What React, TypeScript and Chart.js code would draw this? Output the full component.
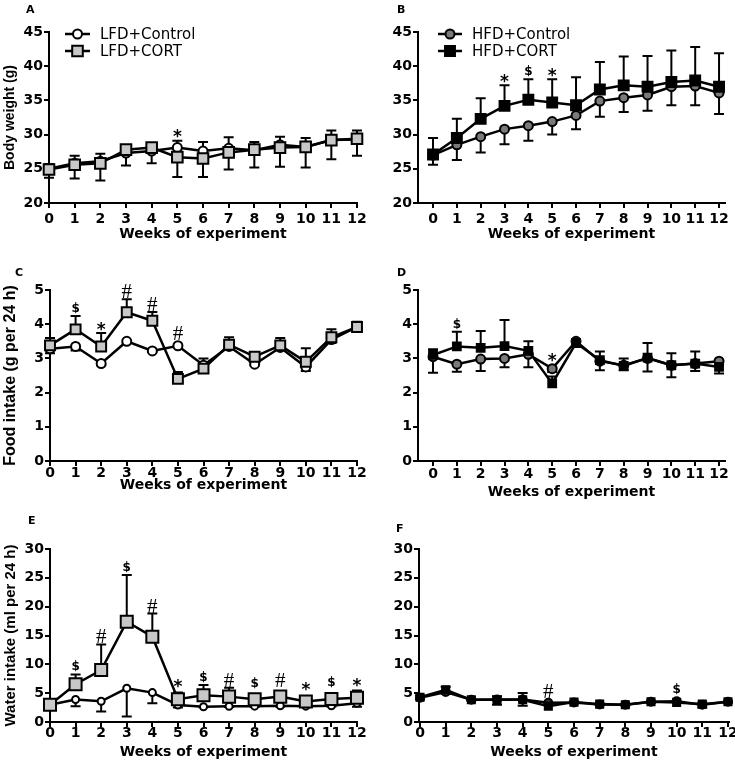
import React, { useEffect, useRef } from "react";
import { Chart, registerables } from "chart.js";

Chart.register(...registerables);

// ---------------- data ----------------
const weeks = [0, 1, 2, 3, 4, 5, 6, 7, 8, 9, 10, 11, 12];

const weightTicks = [20, 25, 30, 35, 40, 45];
const foodTicks = [0, 1, 2, 3, 4, 5];
const waterTicks = [0, 5, 10, 15, 20, 25, 30];

// A: body weight, LFD
const lfdControlWeight = [25.0, 25.8, 26.1, 27.3, 27.6, 28.1, 27.6, 28.0, 27.7, 28.5, 28.2, 29.2, 29.3];
const lfdControlWeightSem = [0.7, 1.1, 1.1, 0.5, 0.4, 1.0, 1.3, 1.6, 1.2, 1.2, 1.3, 1.4, 1.3];
const lfdCortWeight = [24.9, 25.6, 25.8, 27.8, 28.1, 26.7, 26.5, 27.4, 27.8, 28.1, 28.2, 29.2, 29.4];
const lfdCortWeightSem = [1.2, 2.0, 2.5, 2.3, 2.3, 2.9, 2.7, 2.5, 2.6, 2.8, 3.0, 2.8, 2.5];

// B: body weight, HFD
const hfdControlWeight = [27.0, 28.5, 29.7, 30.8, 31.3, 31.9, 32.8, 34.9, 35.4, 35.8, 37.0, 37.1, 36.1];
const hfdControlWeightSem = [1.4, 2.2, 2.3, 2.2, 2.2, 1.9, 2.0, 2.3, 2.1, 2.3, 2.7, 2.8, 3.1];
const hfdCortWeight = [27.1, 29.5, 32.3, 34.2, 35.1, 34.7, 34.3, 36.6, 37.2, 37.0, 37.7, 37.9, 37.0];
const hfdCortWeightSem = [2.4, 2.8, 3.0, 3.0, 3.0, 3.4, 4.1, 4.0, 4.2, 4.5, 4.6, 4.9, 4.9];

// C: food intake, LFD
const lfdControlFood = [3.28, 3.35, 2.85, 3.5, 3.22, 3.37, 2.8, 3.35, 2.83, 3.32, 2.75, 3.55, 3.92];
const lfdControlFoodSem = [0.13, 0.12, 0.05, 0.05, 0.03, 0.04, 0.1, 0.05, 0.04, 0.07, 0.12, 0.1, 0.07];
const lfdCortFood = [3.38, 3.85, 3.35, 4.35, 4.1, 2.4, 2.7, 3.4, 3.05, 3.38, 2.9, 3.62, 3.92];
const lfdCortFoodSem = [0.22, 0.39, 0.39, 0.38, 0.26, 0.2, 0.3, 0.22, 0.1, 0.22, 0.4, 0.23, 0.15];

// D: food intake, HFD
const hfdControlFood = [3.05, 2.83, 2.98, 3.0, 3.12, 2.7, 3.5, 2.92, 2.8, 3.0, 2.8, 2.85, 2.92];
const hfdControlFoodSem = [0.47, 0.22, 0.35, 0.26, 0.38, 0.1, 0.05, 0.27, 0.15, 0.38, 0.35, 0.22, 0.36];
const hfdCortFood = [3.1, 3.35, 3.31, 3.36, 3.22, 2.27, 3.45, 2.95, 2.78, 3.02, 2.8, 2.85, 2.75];
const hfdCortFoodSem = [0.17, 0.43, 0.49, 0.76, 0.28, 0.2, 0.08, 0.25, 0.22, 0.43, 0.35, 0.35, 0.05];

// E: water intake, LFD
const lfdControlWater = [3.0, 3.9, 3.6, 5.85, 5.1, 2.95, 2.65, 2.72, 2.75, 2.8, 2.75, 2.8, 3.25];
const lfdControlWaterSem = [0.2, 1.15, 1.8, 4.9, 1.85, 0.45, 0.1, 0.1, 0.1, 0.1, 0.1, 0.1, 0.6];
const lfdCortWater = [3.0, 6.55, 9.0, 17.4, 14.8, 3.95, 4.65, 4.4, 3.95, 4.4, 3.55, 4.0, 4.2];
const lfdCortWaterSem = [0.2, 1.7, 4.45, 8.1, 4.0, 1.15, 1.75, 1.55, 0.75, 0.7, 0.85, 0.9, 1.25];

// F: water intake, HFD
const hfdControlWater = [4.2, 5.2, 3.85, 3.9, 3.9, 3.35, 3.4, 3.05, 3.0, 3.5, 3.6, 3.0, 3.5];
const hfdControlWaterSem = [0.3, 0.3, 0.1, 0.9, 1.1, 0.2, 0.1, 0.1, 0.1, 0.1, 0.1, 0.5, 0.1];
const hfdCortWater = [4.3, 5.6, 3.85, 3.85, 3.85, 2.75, 3.45, 3.1, 3.0, 3.5, 3.4, 3.1, 3.5];
const hfdCortWaterSem = [0.3, 0.5, 0.1, 0.6, 1.2, 0.2, 0.1, 0.1, 0.1, 0.1, 0.1, 0.3, 0.1];

// significance marks per week
const marksA = ["", "", "", "", "", "*", "", "", "", "", "", "", ""];
const marksB = ["", "", "", "*", "$", "*", "", "", "", "", "", "", ""];
const marksC = ["", "$", "*", "#", "#", "#", "", "", "", "", "", "", ""];
const marksD = ["", "$", "", "", "", "*", "", "", "", "", "", "", ""];
const marksE = ["", "$", "#", "$", "#", "*", "$", "#", "$", "#", "*", "$", "*"];
const marksF = ["", "", "", "", "", "#", "", "", "", "", "$", "", ""];

// ---------------- styles / layout ----------------
type Series = {
  label: string;
  values: number[];
  sem: number[];
  dir: number;
  shape: "circle" | "rect";
  fill: string;
  radius: number;
  order: number;
};

type PanelDef = {
  letter: string;
  letterPos: { x: number; y: number };
  box: { left: number; top: number; width: number; height: number };
  plot: { left: number; top: number; right: number; bottom: number };
  xMin: number;
  xMax: number;
  yTicks: number[];
  yTitle: string;
  yTitleSize: number;
  yTitleCenter: number;
  xTickPad: number;
  xTitleCenter: number;
  lineWidth: number;
  series: Series[];
  marks: string[];
  legend?: { x1: number; x2: number; textX: number; rows: number[] };
};

const LFD_CTRL_FILL = "#ffffff";
const LFD_CORT_FILL = "#c8c8c8";
const HFD_CTRL_FILL = "#7a7a7a";
const HFD_CORT_FILL = "#000000";

const panels: PanelDef[] = [
  {
    letter: "A",
    letterPos: { x: 26, y: 10 },
    box: { left: 0, top: 0, width: 370, height: 250 },
    plot: { left: 49, top: 32, right: 357, bottom: 203 },
    xMin: 0,
    xMax: 12,
    yTicks: weightTicks,
    yTitle: "Body weight (g)",
    yTitleSize: 14,
    yTitleCenter: 10,
    xTickPad: 3,
    xTitleCenter: 234,
    lineWidth: 2.5,
    series: [
      { label: "LFD+Control", values: lfdControlWeight, sem: lfdControlWeightSem, dir: 1, shape: "circle", fill: LFD_CTRL_FILL, radius: 4.5, order: 1 },
      { label: "LFD+CORT", values: lfdCortWeight, sem: lfdCortWeightSem, dir: -1, shape: "rect", fill: LFD_CORT_FILL, radius: 7.5, order: 0 },
    ],
    marks: marksA,
    legend: { x1: 65, x2: 90, textX: 100, rows: [34, 51] },
  },
  {
    letter: "B",
    letterPos: { x: 397, y: 10 },
    box: { left: 365, top: 0, width: 370, height: 250 },
    plot: { left: 418, top: 32, right: 725, bottom: 203 },
    xMin: -0.63,
    xMax: 12.25,
    yTicks: weightTicks,
    yTitle: "",
    yTitleSize: 14,
    yTitleCenter: 10,
    xTickPad: 3,
    xTitleCenter: 234,
    lineWidth: 2.5,
    series: [
      { label: "HFD+Control", values: hfdControlWeight, sem: hfdControlWeightSem, dir: -1, shape: "circle", fill: HFD_CTRL_FILL, radius: 4.5, order: 1 },
      { label: "HFD+CORT", values: hfdCortWeight, sem: hfdCortWeightSem, dir: 1, shape: "rect", fill: HFD_CORT_FILL, radius: 7, order: 0 },
    ],
    marks: marksB,
    legend: { x1: 438, x2: 462, textX: 472, rows: [34, 51] },
  },
  {
    letter: "C",
    letterPos: { x: 15, y: 273 },
    box: { left: 0, top: 250, width: 370, height: 255 },
    plot: { left: 50, top: 290, right: 357, bottom: 461 },
    xMin: 0,
    xMax: 12,
    yTicks: foodTicks,
    yTitle: "Food intake (g per 24 h)",
    yTitleSize: 16,
    yTitleCenter: 11,
    xTickPad: -1,
    xTitleCenter: 485,
    lineWidth: 2.5,
    series: [
      { label: "LFD+Control", values: lfdControlFood, sem: lfdControlFoodSem, dir: -1, shape: "circle", fill: LFD_CTRL_FILL, radius: 4.5, order: 1 },
      { label: "LFD+CORT", values: lfdCortFood, sem: lfdCortFoodSem, dir: 1, shape: "rect", fill: LFD_CORT_FILL, radius: 7, order: 0 },
    ],
    marks: marksC,
  },
  {
    letter: "D",
    letterPos: { x: 397, y: 273 },
    box: { left: 365, top: 250, width: 370, height: 255 },
    plot: { left: 418, top: 290, right: 725, bottom: 461 },
    xMin: -0.63,
    xMax: 12.25,
    yTicks: foodTicks,
    yTitle: "",
    yTitleSize: 16,
    yTitleCenter: 11,
    xTickPad: 0,
    xTitleCenter: 492,
    lineWidth: 2.5,
    series: [
      { label: "HFD+Control", values: hfdControlFood, sem: hfdControlFoodSem, dir: -1, shape: "circle", fill: HFD_CTRL_FILL, radius: 4.5, order: 1 },
      { label: "HFD+CORT", values: hfdCortFood, sem: hfdCortFoodSem, dir: 1, shape: "rect", fill: HFD_CORT_FILL, radius: 5.5, order: 0 },
    ],
    marks: marksD,
  },
  {
    letter: "E",
    letterPos: { x: 28, y: 521 },
    box: { left: 0, top: 505, width: 370, height: 261 },
    plot: { left: 50, top: 549, right: 357, bottom: 722 },
    xMin: 0,
    xMax: 12,
    yTicks: waterTicks,
    yTitle: "Water intake (ml per 24 h)",
    yTitleSize: 15,
    yTitleCenter: 11,
    xTickPad: -2,
    xTitleCenter: 752,
    lineWidth: 2.5,
    series: [
      { label: "LFD+Control", values: lfdControlWater, sem: lfdControlWaterSem, dir: -1, shape: "circle", fill: LFD_CTRL_FILL, radius: 3.5, order: 1 },
      { label: "LFD+CORT", values: lfdCortWater, sem: lfdCortWaterSem, dir: 1, shape: "rect", fill: LFD_CORT_FILL, radius: 8.5, order: 0 },
    ],
    marks: marksE,
  },
  {
    letter: "F",
    letterPos: { x: 396, y: 529 },
    box: { left: 365, top: 505, width: 385, height: 261 },
    plot: { left: 419, top: 549, right: 729, bottom: 722 },
    xMin: -0.04,
    xMax: 12.04,
    yTicks: waterTicks,
    yTitle: "",
    yTitleSize: 15,
    yTitleCenter: 11,
    xTickPad: -2,
    xTitleCenter: 752,
    lineWidth: 2.5,
    series: [
      { label: "HFD+Control", values: hfdControlWater, sem: hfdControlWaterSem, dir: -1, shape: "circle", fill: "#333333", radius: 4, order: 1 },
      { label: "HFD+CORT", values: hfdCortWater, sem: hfdCortWaterSem, dir: 1, shape: "rect", fill: HFD_CORT_FILL, radius: 5, order: 0 },
    ],
    marks: marksF,
  },
];

// ---------------- drawing helpers ----------------
function drawMarker(ctx: CanvasRenderingContext2D, shape: string, x: number, y: number, r: number, fill: string) {
  ctx.beginPath();
  if (shape === "circle") {
    ctx.arc(x, y, r, 0, Math.PI * 2);
  } else {
    const h = r * Math.SQRT1_2;
    ctx.rect(x - h, y - h, 2 * h, 2 * h);
  }
  ctx.fillStyle = fill;
  ctx.fill();
  ctx.lineWidth = 2;
  ctx.strokeStyle = "#000";
  ctx.stroke();
}

function drawSymbol(ctx: CanvasRenderingContext2D, sym: string, x: number, cy: number) {
  let size = 17;
  let k = 0.57;
  if (sym === "*") {
    size = 17;
    ctx.font = `bold ${size}px "DejaVu Sans"`;
    k = 0.57;
  } else if (sym === "$") {
    size = 12;
    ctx.font = `bold ${size}px "DejaVu Sans"`;
    k = 0.32;
  } else {
    size = 21;
    ctx.font = `${size}px "Liberation Serif"`;
    k = 0.33;
  }
  ctx.fillStyle = "#000";
  ctx.textAlign = "center";
  ctx.textBaseline = "alphabetic";
  ctx.fillText(sym, x, cy + k * size);
}

function buildConfig(p: PanelDef): any {
  const boxBottom = p.box.top + p.box.height;
  const boxRight = p.box.left + p.box.width;
  const yMin = p.yTicks[0];
  const yMax = p.yTicks[p.yTicks.length - 1];
  const tickFont = { family: "DejaVu Sans", weight: "bold" as const, size: 14 };

  const datasets = p.series.map((s) => ({
    label: s.label,
    data: weeks.map((w, i) => ({ x: w, y: s.values[i] })),
    borderColor: "#000",
    borderWidth: p.lineWidth,
    backgroundColor: s.fill,
    pointStyle: s.shape,
    pointRadius: s.radius,
    pointHoverRadius: s.radius,
    pointBackgroundColor: s.fill,
    pointBorderColor: "#000",
    pointBorderWidth: 2,
    tension: 0,
    fill: false,
    clip: false,
    order: s.order,
  }));

  const errorBars = {
    id: "errorBars",
    beforeDatasetsDraw(chart: any) {
      const ctx = chart.ctx;
      const xs = chart.scales.x;
      const ys = chart.scales.y;
      ctx.save();
      ctx.strokeStyle = "#000";
      ctx.lineWidth = 2;
      ctx.lineCap = "butt";
      p.series.forEach((s) => {
        weeks.forEach((w, i) => {
          const x = xs.getPixelForValue(w);
          const y0 = ys.getPixelForValue(s.values[i]);
          const y1 = ys.getPixelForValue(s.values[i] + s.dir * s.sem[i]);
          ctx.beginPath();
          ctx.moveTo(x, y0);
          ctx.lineTo(x, y1);
          ctx.moveTo(x - 5, y1);
          ctx.lineTo(x + 5, y1);
          ctx.stroke();
        });
      });
      ctx.restore();
    },
  };

  const overlay = {
    id: "overlay",
    afterDraw(chart: any) {
      const ctx = chart.ctx;
      const xs = chart.scales.x;
      const ys = chart.scales.y;
      ctx.save();
      // significance marks
      p.marks.forEach((m, i) => {
        if (!m) return;
        let top = Infinity;
        p.series.forEach((s) => {
          const yv = ys.getPixelForValue(s.values[i]);
          top = Math.min(top, yv - s.radius);
          if (s.dir > 0) top = Math.min(top, ys.getPixelForValue(s.values[i] + s.sem[i]));
        });
        drawSymbol(ctx, m, xs.getPixelForValue(weeks[i]), top - 8);
      });
      // panel letter
      ctx.fillStyle = "#000";
      ctx.font = 'bold 11px "DejaVu Sans"';
      ctx.textAlign = "left";
      ctx.textBaseline = "middle";
      ctx.fillText(p.letter, p.letterPos.x - p.box.left, p.letterPos.y - p.box.top);
      // legend
      if (p.legend) {
        const lg = p.legend;
        p.series.forEach((s, k) => {
          const y = lg.rows[k] - p.box.top;
          ctx.beginPath();
          ctx.moveTo(lg.x1 - p.box.left, y);
          ctx.lineTo(lg.x2 - p.box.left, y);
          ctx.strokeStyle = "#000";
          ctx.lineWidth = p.lineWidth;
          ctx.stroke();
          drawMarker(ctx, s.shape, (lg.x1 + lg.x2) / 2 - p.box.left, y, s.radius, s.fill);
          ctx.fillStyle = "#000";
          ctx.font = '15px "DejaVu Sans"';
          ctx.textAlign = "left";
          ctx.textBaseline = "middle";
          ctx.fillText(s.label, lg.textX - p.box.left, y + 1);
        });
      }
      ctx.restore();
    },
  };

  return {
    type: "line",
    data: { datasets },
    options: {
      animation: false,
      responsive: false,
      maintainAspectRatio: false,
      devicePixelRatio: 1,
      events: [],
      layout: {
        padding: {
          left: 0,
          top: p.plot.top - p.box.top,
          right: boxRight - p.plot.right,
          bottom: 0,
        },
      },
      plugins: {
        legend: { display: false },
        tooltip: { enabled: false },
        title: { display: false },
      },
      scales: {
        x: {
          type: "linear",
          min: p.xMin,
          max: p.xMax,
          afterBuildTicks: (scale: any) => {
            scale.ticks = weeks.map((v) => ({ value: v }));
          },
          afterFit: (scale: any) => {
            scale.height = boxBottom - p.plot.bottom;
          },
          ticks: {
            font: tickFont,
            color: "#000",
            padding: p.xTickPad,
            maxRotation: 0,
            minRotation: 0,
            autoSkip: false,
            callback: (v: any) => String(v),
          },
          grid: {
            display: true,
            drawOnChartArea: false,
            drawTicks: true,
            tickLength: 5,
            color: "#000",
            lineWidth: 2,
          },
          border: { display: true, color: "#000", width: 2 },
          title: {
            display: true,
            text: "Weeks of experiment",
            color: "#000",
            font: { family: "DejaVu Sans", weight: "bold", size: 14 },
            padding: { top: 0, bottom: boxBottom - p.xTitleCenter - 8.4 },
          },
        },
        y: {
          type: "linear",
          min: yMin,
          max: yMax,
          afterBuildTicks: (scale: any) => {
            scale.ticks = p.yTicks.map((v) => ({ value: v }));
          },
          afterFit: (scale: any) => {
            scale.width = p.plot.left - p.box.left;
          },
          ticks: {
            font: tickFont,
            color: "#000",
            padding: 1,
            callback: (v: any) => String(v),
          },
          grid: {
            display: true,
            drawOnChartArea: false,
            drawTicks: true,
            tickLength: 5,
            color: "#000",
            lineWidth: 2,
          },
          border: { display: true, color: "#000", width: 2 },
          title: {
            display: p.yTitle !== "",
            text: p.yTitle,
            color: "#000",
            font: { family: "Liberation Sans", weight: "bold", size: p.yTitleSize },
            padding: { top: Math.max(0, p.yTitleCenter - (p.yTitleSize * 1.2) / 2), bottom: 0 },
          },
        },
      },
    },
    plugins: [errorBars, overlay],
  };
}

function Panel({ p }: { p: PanelDef }) {
  const ref = useRef<HTMLCanvasElement | null>(null);
  useEffect(() => {
    const canvas = ref.current;
    if (!canvas) return;
    const chart = new Chart(canvas, buildConfig(p));
    return () => chart.destroy();
  }, [p]);
  return (
    <div
      style={{
        position: "absolute",
        left: p.box.left,
        top: p.box.top,
        width: p.box.width,
        height: p.box.height,
      }}
    >
      <canvas
        ref={ref}
        width={p.box.width}
        height={p.box.height}
        style={{ display: "block", width: p.box.width, height: p.box.height }}
      />
    </div>
  );
}

export default function App() {
  return (
    <div
      style={{
        position: "fixed",
        left: 0,
        top: 0,
        width: 735,
        height: 766,
        overflow: "hidden",
        background: "#ffffff",
      }}
    >
      {panels.map((p) => (
        <Panel key={p.letter} p={p} />
      ))}
    </div>
  );
}
